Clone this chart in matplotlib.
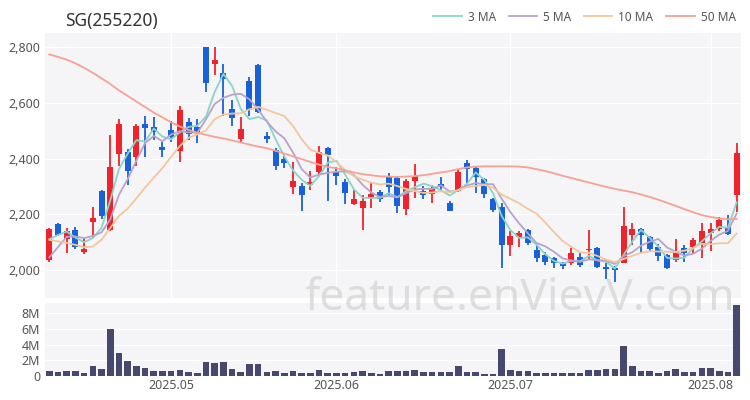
import matplotlib
matplotlib.use("Agg")
import matplotlib.pyplot as plt
import numpy as np
import pandas as pd

plt.rcParams['font.family'] = ['Noto Sans', 'DejaVu Sans']

# --- data -----------------------------------------------------------------
title = "SG(255220)"
start_date = "2025-04-11"
end_date = "2025-08-06"
market_holidays = ["2025-05-01", "2025-05-05", "2025-05-06", "2025-06-03"]

opens = [2036, 2165, 2110, 2143, 2066, 2172, 2282, 2144, 2416, 2425,
         2407, 2523, 2514, 2443, 2503, 2428, 2532, 2515, 2800, 2738,
         2709, 2577, 2470, 2680, 2736, 2481, 2430, 2397, 2299, 2302,
         2305, 2350, 2437, 2353, 2315, 2237, 2222, 2257, 2281, 2335,
         2330, 2219, 2321, 2284, 2273, 2307, 2240, 2285, 2383, 2366,
         2325, 2254, 2225, 2090, 2117, 2144, 2072, 2054, 2042, 2024,
         2024, 2048, 2070, 2080, 2012, 2008, 2026, 2126, 2146, 2117,
         2084, 2054, 2036, 2078, 2084, 2096, 2132, 2146, 2153, 2269]
highs = [2150, 2169, 2152, 2155, 2110, 2226, 2288, 2485, 2542, 2435,
         2524, 2553, 2550, 2460, 2536, 2589, 2545, 2541, 2800, 2800,
         2740, 2610, 2548, 2694, 2738, 2497, 2438, 2413, 2389, 2313,
         2357, 2445, 2440, 2371, 2325, 2287, 2269, 2313, 2287, 2349,
         2335, 2325, 2381, 2302, 2305, 2335, 2248, 2361, 2395, 2371,
         2329, 2258, 2242, 2141, 2141, 2148, 2090, 2066, 2046, 2027,
         2078, 2060, 2144, 2083, 2026, 2015, 2225, 2170, 2150, 2120,
         2093, 2056, 2110, 2090, 2114, 2170, 2170, 2189, 2197, 2455]
lows = [2029, 2122, 2062, 2075, 2058, 2115, 2183, 2140, 2373, 2305,
        2373, 2407, 2467, 2407, 2461, 2389, 2467, 2457, 2640, 2700,
        2553, 2517, 2455, 2553, 2565, 2455, 2360, 2365, 2273, 2213,
        2287, 2341, 2249, 2305, 2237, 2233, 2144, 2221, 2245, 2269,
        2203, 2197, 2257, 2254, 2239, 2281, 2210, 2281, 2311, 2277,
        2257, 2209, 2006, 2050, 2084, 2090, 2030, 2018, 2006, 2002,
        2018, 2012, 2036, 2006, 1967, 1955, 2024, 2090, 2062, 2066,
        2033, 2004, 2030, 2030, 2057, 2042, 2069, 2138, 2127, 2209]
closes = [2147, 2126, 2140, 2082, 2076, 2185, 2192, 2371, 2524, 2357,
          2517, 2509, 2497, 2431, 2479, 2574, 2488, 2490, 2673, 2754,
          2685, 2545, 2506, 2574, 2568, 2469, 2372, 2383, 2318, 2270,
          2317, 2425, 2413, 2339, 2276, 2254, 2248, 2273, 2256, 2297,
          2230, 2321, 2339, 2270, 2293, 2296, 2212, 2353, 2362, 2335,
          2274, 2216, 2090, 2122, 2132, 2097, 2042, 2030, 2024, 2013,
          2060, 2018, 2074, 2010, 2004, 2000, 2158, 2146, 2127, 2074,
          2050, 2006, 2066, 2060, 2108, 2140, 2146, 2178, 2130, 2419]
# closes of the sessions just before the first date (used to seed the short MAs)
prior_closes = [2180, 2200, 2150, 2160, 2165, 1940, 1955, 2080, 2103]

volume_m = [0.70, 0.57, 0.70, 0.70, 0.40, 1.26, 0.83, 6.00, 2.90, 1.96,
            1.30, 1.00, 0.65, 0.65, 0.65, 0.74, 0.52, 0.35, 1.74, 1.70,
            1.83, 0.90, 0.52, 1.48, 1.57, 0.52, 0.60, 0.35, 0.65, 0.43,
            0.35, 0.74, 0.43, 0.43, 0.43, 0.57, 0.65, 0.43, 0.30, 0.60,
            0.70, 0.60, 0.78, 0.52, 0.48, 0.48, 0.52, 1.22, 0.52, 0.48,
            0.30, 0.26, 3.43, 0.74, 0.65, 0.60, 0.43, 0.43, 0.43, 0.40,
            0.43, 0.40, 0.78, 0.78, 0.87, 0.87, 3.78, 1.22, 0.65, 0.60,
            0.43, 0.65, 0.87, 0.48, 0.52, 1.04, 1.00, 0.65, 0.57, 9.10]

ma50 = [2774, 2765, 2755, 2742, 2726, 2708, 2688, 2668, 2645, 2625,
        2605, 2585, 2565, 2548, 2530, 2515, 2503, 2493, 2485, 2478,
        2472, 2465, 2458, 2450, 2443, 2437, 2428, 2418, 2408, 2398,
        2388, 2378, 2370, 2365, 2358, 2350, 2344, 2340, 2336, 2335,
        2334, 2335, 2337, 2340, 2345, 2350, 2355, 2362, 2368, 2371,
        2372, 2372, 2372, 2372, 2371, 2368, 2362, 2355, 2347, 2338,
        2330, 2322, 2314, 2306, 2298, 2291, 2285, 2279, 2271, 2262,
        2252, 2241, 2230, 2218, 2207, 2197, 2190, 2185, 2182, 2183]

ma_labels = ["3 MA", "5 MA", "10 MA", "50 MA"]
ma_colors = ["#8ad4c9", "#b7a3cb", "#f2c79c", "#f5a193"]

price_ticks = [2000, 2200, 2400, 2600, 2800]
volume_ticks = [0, 2e6, 4e6, 6e6, 8e6]
volume_tick_labels = ["0", "2M", "4M", "6M", "8M"]

# --- derived series ----------------------------------------------------------
dates = pd.bdate_range(start_date, end_date)
dates = dates[~dates.isin(pd.to_datetime(market_holidays))]
n = len(closes)
x = np.arange(n)

all_close = pd.Series(prior_closes + closes, dtype=float)
k = len(prior_closes)
ma3 = all_close.rolling(3).mean().values[k:]
ma5 = all_close.rolling(5).mean().values[k:]
ma10 = all_close.rolling(10).mean().values[k:]

o = np.array(opens, float)
c = np.array(closes, float)
h = np.array(highs, float)
l = np.array(lows, float)
vol = np.array(volume_m) * 1e6

month_first = [i for i in range(1, n) if dates[i].month != dates[i - 1].month]
month_labels = [dates[i].strftime("%Y.%m") for i in month_first]

# --- figure --------------------------------------------------------------
UP = "#f0222b"
DOWN = "#1861d8"
BG = "#f5f5f7"
TXT = "#555555"

fig = plt.figure(figsize=(7.5, 4.0), dpi=100)
ax = fig.add_axes([0.06, 0.255, 0.928, 0.6625])
axv = fig.add_axes([0.06, 0.06, 0.928, 0.1825], sharex=ax)

for a in (ax, axv):
    a.set_facecolor(BG)
    for s in a.spines.values():
        s.set_visible(False)
    a.tick_params(length=0, labelsize=9, colors=TXT)
    a.grid(True, color="white", linewidth=1.0)
    a.set_axisbelow(True)

# candles
up = c >= o
col = np.where(up, UP, DOWN)
body_lo = np.minimum(o, c)
body_h = np.maximum(np.abs(c - o), 3)
ax.vlines(x, l, h, colors=col, linewidth=1.3, zorder=3)
ax.bar(x, body_h, bottom=body_lo, width=0.68, color=col, zorder=4)

# moving averages
for series, lab, colr in zip([ma3, ma5, ma10, ma50], ma_labels, ma_colors):
    ax.plot(x, series, color=colr, linewidth=1.3, label=lab, zorder=5)

ax.set_xlim(-0.5, n - 0.5)
ax.set_ylim(1899, 2851)
ax.set_yticks(price_ticks)
ax.set_yticklabels([f"{v:,}" for v in price_ticks])
ax.set_xticks([16, 32, 48, 64])
ax.tick_params(axis="x", labelbottom=False)

# volume
axv.bar(x, vol, width=0.75, color="#46486f", zorder=3)
axv.set_ylim(0, 9.3e6)
axv.set_yticks(volume_ticks)
axv.set_yticklabels(volume_tick_labels)
axv.set_xticks(month_first)
axv.set_xticklabels(month_labels)
axv.grid(False, axis="x")
axv.tick_params(axis="x", pad=2)

fig.text(0.087, 0.948, title, fontsize=12.5, color="#333333", va="center")
fig.legend(loc="upper right", bbox_to_anchor=(0.995, 1.0), ncol=4, frameon=False,
           fontsize=8.5, handlelength=2.4, columnspacing=1.1, handletextpad=0.5,
           labelcolor=TXT)

fig.text(0.693, 0.252, "feature.enVievV.com", fontsize=32, color="#c8c8c8",
         alpha=0.55, ha="center", va="center", zorder=10)

fig.savefig("out.png", dpi=100)
